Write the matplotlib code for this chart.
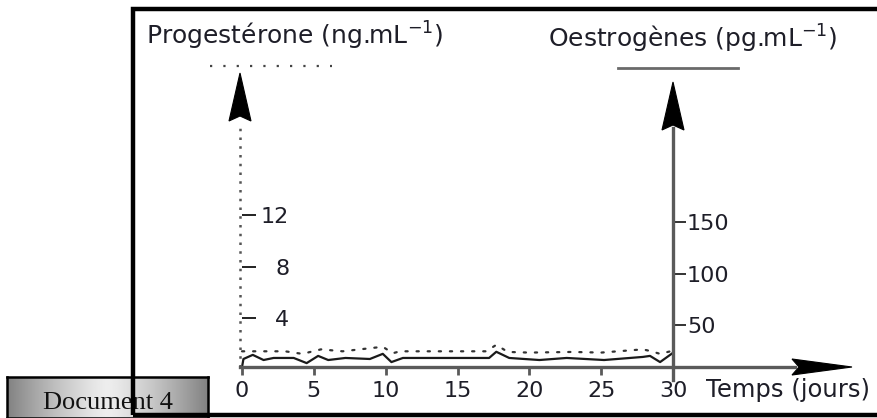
import numpy as np
import matplotlib.pyplot as plt
from matplotlib.patches import Polygon, Rectangle
from matplotlib.lines import Line2D

W, H = 877, 418

# oestrogenes (pg/mL), trait plein, axe de droite
jours_oestro = [0, 0.1, 0.75, 1.5, 2.2, 3.6, 4.5, 5.3, 6.0, 7.2, 8.9, 9.8, 10.4,
                11.2, 17.2, 17.7, 18.6, 20.7, 22.6, 25.2, 27.9, 28.4, 29.1, 30]
oestrogenes = [9, 17, 21, 16, 18, 18, 13, 20, 16, 18, 17, 22, 14,
               18, 18, 24, 18, 16, 18, 16, 19, 20, 14, 23]

# progesterone (ng/mL), pointilles, axe de gauche
jours_proges = [0, 3.0, 4.2, 5.5, 7.0, 9.8, 10.5, 11.0, 17.0, 17.7, 18.5, 20.0,
                23.0, 25.0, 27.9, 28.5, 29.1, 30]
progesterone = [1.45, 1.45, 1.25, 1.6, 1.45, 1.8, 1.3, 1.45, 1.45, 1.95, 1.4, 1.35,
                1.4, 1.35, 1.6, 1.45, 1.25, 1.5]

x_ticks = [0, 5, 10, 15, 20, 25, 30]
prog_ticks = [4, 8, 12]
oestro_ticks = [50, 100, 150]


def fx(x):
    return x / W


def fy(y):
    return 1 - y / H


fig = plt.figure(figsize=(W / 100, H / 100), dpi=100)
fig.patch.set_facecolor('white')

txt = '#1e1e28'
axis_gray = '#5a5a5a'

# data area: day 0 -> px 242, day 30 -> px 673 ; baseline px 367, top px 73
ax = fig.add_axes([fx(242), fy(367), fx(673 - 242), (367 - 73) / H])
ax.set_xlim(0, 30)
ax.set_ylim((370 - 367) / 12.9, (370 - 73) / 12.9)
ax.patch.set_alpha(0)
for s in ax.spines.values():
    s.set_visible(False)

ax2 = ax.twinx()
ax2.set_ylim((376.5 - 367) / 1.03, (376.5 - 73) / 1.03)
ax2.patch.set_alpha(0)
for s in ax2.spines.values():
    s.set_visible(False)

# courbes
ax.plot(jours_proges, progesterone, color='#333333', lw=1.6,
        linestyle=(0, (1, 4)), dash_capstyle='round', clip_on=False)
ax2.plot(jours_oestro, oestrogenes, color='#1a1a1a', lw=1.6, clip_on=False)

# x ticks
ax.set_xticks(x_ticks)
ax.set_xticklabels([str(v) for v in x_ticks], fontsize=16, color=txt)
ax.tick_params(axis='x', direction='out', length=6, width=2, color=axis_gray, pad=4)

# left ticks (inside the axis)
ax.set_yticks(prog_ticks)
ax.set_yticklabels([str(v) for v in prog_ticks], fontsize=16, color=txt)
ax.tick_params(axis='y', direction='in', length=10, width=1.4, color='#222222', pad=-34)

# right ticks
ax2.set_yticks(oestro_ticks)
ax2.set_yticklabels([str(v) for v in oestro_ticks], fontsize=16, color=txt)
ax2.tick_params(axis='y', direction='out', length=9, width=1.4, color='#333333', pad=1)

# axes lines
fig.add_artist(Line2D([fx(240), fx(795)], [fy(367), fy(367)], color=axis_gray, lw=2.4))
fig.add_artist(Line2D([fx(240), fx(240)], [fy(367), fy(122)], color='#555555', lw=1.8,
                      linestyle=(0, (1, 2.5))))
fig.add_artist(Line2D([fx(673), fx(673)], [fy(380), fy(128)], color=axis_gray, lw=2.4))


def arrow_head(tip, base_l, base_r, notch):
    pts = [(fx(p[0]), fy(p[1])) for p in (tip, base_r, notch, base_l)]
    fig.add_artist(Polygon(pts, closed=True, facecolor='black', edgecolor='black',
                           lw=0.8, transform=fig.transFigure))


arrow_head((240, 73), (229, 121), (251, 121), (240, 116))
arrow_head((673, 82), (662, 130), (684, 130), (673, 125))
arrow_head((852, 367), (792, 359), (792, 375), (799, 367))

# legend keys
fig.add_artist(Line2D([fx(210), fx(332)], [fy(66), fy(66)], color='#444444', lw=1.6,
                      linestyle=(0, (1, 5))))
fig.add_artist(Line2D([fx(618), fx(738)], [fy(68), fy(68)], color='#6a6a6a', lw=2.0))

# titles
fig.text(fx(146), fy(36), 'Progestérone (ng.mL$^{-1}$)', fontsize=18, color=txt,
         ha='left', va='center')
fig.text(fx(548), fy(39), 'Oestrogènes (pg.mL$^{-1}$)', fontsize=18, color=txt,
         ha='left', va='center')
fig.text(fx(706), fy(390), 'Temps (jours)', fontsize=17.5, color=txt, ha='left', va='center')

# frame (right edge runs off the picture)
fig.add_artist(Rectangle((fx(133), fy(415)), fx(800), (415 - 9) / H, fill=False,
                         edgecolor='black', lw=3.2, transform=fig.transFigure))

# Document 4 box with gradient (light in the middle, darker at the sides)
bx = fig.add_axes([fx(7), 0, fx(208 - 7), (418 - 377) / H])
grad = 0.93 - 0.42 * np.abs(np.linspace(-1, 1, 200)) ** 1.3
bx.imshow(grad[np.newaxis, :], aspect='auto', cmap='gray', vmin=0, vmax=1,
          extent=[0, 1, 0, 1])
bx.set_xticks([])
bx.set_yticks([])
for s in bx.spines.values():
    s.set_linewidth(1.8)
    s.set_color('black')
bx.text(0.5, 0.36, 'Document 4', fontsize=19, family='Liberation Serif',
        ha='center', va='center', color='#111111', transform=bx.transAxes)

fig.savefig('out.png', dpi=100)
